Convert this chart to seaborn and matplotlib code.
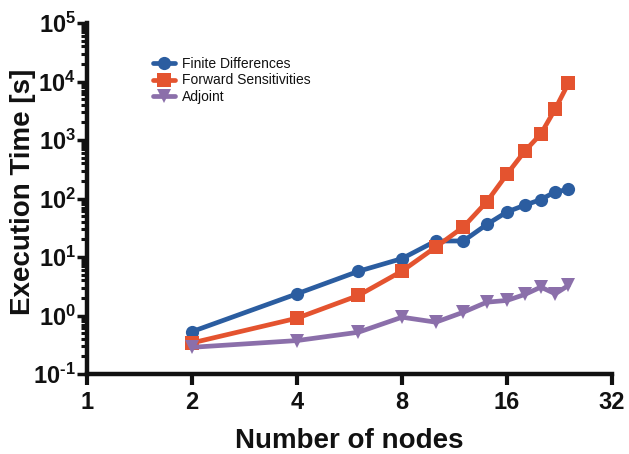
import math
import matplotlib
matplotlib.use("Agg")
import matplotlib.pyplot as plt
import matplotlib.ticker as mticker
import seaborn as sns
import pandas as pd

nodes = [2, 4, 6, 8, 10, 12, 14, 16, 18, 20, 22, 24]
finite_diff = [0.53, 2.35, 5.7, 9.4, 18.8, 18.8, 36, 59, 77, 96, 130, 143]
forward_sens = [0.34, 0.90, 2.2, 5.75, 14.8, 32.7, 88, 261, 648, 1267, 3400, 9360]
adjoint = [0.286, 0.373, 0.518, 0.936, 0.769, 1.14, 1.69, 1.81, 2.29, 3.06, 2.35, 3.27]

series_names = ["Finite Differences", "Forward Sensitivities", "Adjoint"]
series_values = [finite_diff, forward_sens, adjoint]
colors = ["#2B5DA0", "#E4532F", "#8B6FAA"]
markers = ["o", "s", "v"]
x_ticks = [1, 2, 4, 8, 16, 32]

sns.set_style("ticks")
plt.rcParams["font.family"] = ["Liberation Sans", "DejaVu Sans"]
plt.rcParams["mathtext.fontset"] = "custom"
plt.rcParams["mathtext.rm"] = "Liberation Sans:bold"
plt.rcParams["mathtext.bf"] = "Liberation Sans:bold"
ink = "#111111"
plt.rcParams["text.color"] = ink
plt.rcParams["axes.labelcolor"] = ink
plt.rcParams["xtick.color"] = ink
plt.rcParams["ytick.color"] = ink

fig = plt.figure(figsize=(6.29, 4.54), dpi=100)
ax = fig.add_axes([0.1383, 0.1762, 0.973 - 0.1383, 0.9493 - 0.1762])

for name, vals, c, m in zip(series_names, series_values, colors, markers):
    df = pd.DataFrame({"nodes": nodes, "time": vals})
    sns.lineplot(data=df, x="nodes", y="time", ax=ax, color=c, marker=m,
                 markersize=9.5 if m != "v" else 10.5, markeredgewidth=0,
                 linewidth=3.4, label=name)

ax.set_xscale("log", base=2)
ax.set_yscale("log")
ax.set_xlim(1, 32)
ax.set_ylim(0.1, 1e5)
ax.set_xticks(x_ticks)
ax.xaxis.set_major_formatter(mticker.FixedFormatter([str(t) for t in x_ticks]))
ax.xaxis.set_minor_locator(mticker.NullLocator())
ax.yaxis.set_major_locator(mticker.LogLocator(base=10, numticks=10))
ax.yaxis.set_minor_locator(mticker.LogLocator(base=10, subs=range(2, 10), numticks=20))


def ylab(v, p):
    e = int(round(math.log10(v)))
    if e < 0:
        return r"$\mathbf{10^{\text{-}%d}}$" % (-e)
    return r"$\mathbf{10^{%d}}$" % e


ax.yaxis.set_major_formatter(mticker.FuncFormatter(ylab))
ax.yaxis.set_minor_formatter(mticker.NullFormatter())

ax.tick_params(axis="x", which="major", length=8, width=3, labelsize=17, pad=4,
               color=ink, labelcolor=ink)
ax.tick_params(axis="y", which="major", length=7, width=2.5, labelsize=17, pad=1,
               color=ink, labelcolor=ink)
ax.tick_params(axis="y", which="minor", length=4, width=2.2, color=ink)
for lbl in ax.get_xticklabels():
    lbl.set_fontweight("bold")

sns.despine(ax=ax)
for s in ["left", "bottom"]:
    ax.spines[s].set_linewidth(3.2)
    ax.spines[s].set_color(ink)

ax.set_xlabel("Number of nodes", fontsize=20, fontweight="bold", color=ink)
ax.set_ylabel("Execution Time [s]", fontsize=20, fontweight="bold", color=ink)
ax.xaxis.set_label_coords(0.5, -0.155)
ax.yaxis.set_label_coords(-0.097, 0.518)

leg = ax.legend(loc="upper left", bbox_to_anchor=(0.115, 0.92), frameon=False,
                fontsize=10, handlelength=1.6, handletextpad=0.5, labelspacing=0.2,
                borderaxespad=0, labelcolor=ink)

fig.savefig("out.png", dpi=100)
